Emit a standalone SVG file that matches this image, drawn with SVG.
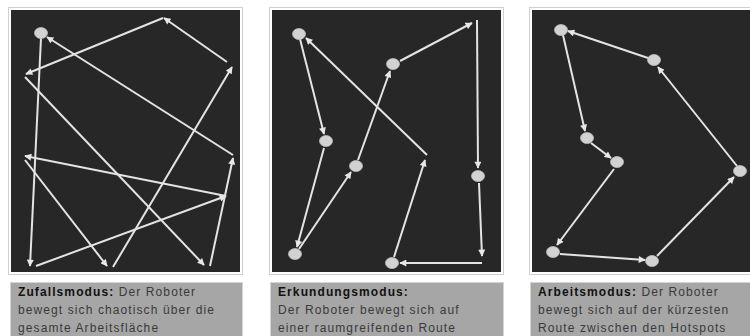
<svg xmlns="http://www.w3.org/2000/svg" width="750" height="336" viewBox="0 0 750 336">
<defs>
<style>
.frame{fill:#fff;stroke:#cfcfcf;stroke-width:1}
.dark{fill:#272727}
.cap{fill:#a6a6a6;stroke:#d4d4d4;stroke-width:1}
.ln{stroke:#e4e4e4;stroke-width:2;fill:none;marker-end:url(#ah)}
.nd{fill:#d2d2d2;stroke:#bdbdbd;stroke-width:0.8}
.t{font-family:"Liberation Sans",Arial,sans-serif;font-size:12px;fill:#3a3a3a;letter-spacing:1.1px}
.b{font-weight:bold;fill:#111}
</style>
<marker id="ah" viewBox="0 0 10 10" refX="9" refY="5" markerWidth="8" markerHeight="7" markerUnits="userSpaceOnUse" orient="auto">
<path d="M0,0 L10,5 L0,10 z" fill="#e8e8e8"/>
</marker>
</defs>
<rect width="750" height="336" fill="#fff"/>

<g id="panel1">
<rect class="frame" x="8.5" y="7.5" width="234" height="267"/>
<rect class="dark" x="11" y="10" width="229" height="262"/>
</g>
<g id="panel2">
<rect class="frame" x="269.5" y="7.5" width="234" height="267"/>
<rect class="dark" x="272" y="10" width="229" height="262"/>
</g>
<g id="panel3">
<rect class="frame" x="529.5" y="7.5" width="230" height="267"/>
<rect class="dark" x="532" y="10" width="230" height="262"/>
</g>

<g id="connectors">
<line class="ln" x1="41" y1="38" x2="30" y2="266"/>
<line class="ln" x1="36" y1="266" x2="226" y2="196"/>
<line class="ln" x1="226" y1="196" x2="25" y2="156"/>
<line class="ln" x1="25" y1="160" x2="107" y2="266"/>
<line class="ln" x1="113" y1="267" x2="232" y2="67"/>
<line class="ln" x1="227" y1="62" x2="164" y2="18"/>
<line class="ln" x1="163" y1="18" x2="26" y2="74"/>
<line class="ln" x1="25" y1="77" x2="204" y2="265"/>
<line class="ln" x1="210" y1="266" x2="233" y2="158"/>
<line class="ln" x1="233" y1="155" x2="47" y2="37"/>

<line class="ln" x1="300" y1="39" x2="324" y2="134"/>
<line class="ln" x1="324" y1="148" x2="297" y2="247"/>
<line class="ln" x1="299" y1="249" x2="351" y2="172"/>
<line class="ln" x1="358" y1="160" x2="390" y2="71"/>
<line class="ln" x1="400" y1="61" x2="472" y2="23"/>
<line class="ln" x1="477" y1="20" x2="478" y2="168"/>
<line class="ln" x1="479" y1="183" x2="482" y2="256"/>
<line class="ln" x1="482" y1="263" x2="400" y2="263"/>
<line class="ln" x1="394" y1="257" x2="425" y2="160"/>
<line class="ln" x1="427" y1="155" x2="306" y2="38"/>

<line class="ln" x1="563" y1="35" x2="585" y2="131"/>
<line class="ln" x1="591" y1="143" x2="611" y2="158"/>
<line class="ln" x1="614" y1="169" x2="557" y2="245"/>
<line class="ln" x1="560" y1="254" x2="645" y2="260"/>
<line class="ln" x1="657" y1="256" x2="734" y2="177"/>
<line class="ln" x1="737" y1="166" x2="658" y2="67"/>
<line class="ln" x1="648" y1="58" x2="568" y2="31"/>
</g>

<g id="nodes1">
<ellipse class="nd" cx="41" cy="33" rx="6.5" ry="5.5"/>
</g>
<g id="nodes2">
<ellipse class="nd" cx="299" cy="34" rx="6.5" ry="5.5"/>
<ellipse class="nd" cx="326" cy="141" rx="6.5" ry="5.5"/>
<ellipse class="nd" cx="295" cy="254" rx="6.5" ry="5.5"/>
<ellipse class="nd" cx="356" cy="166" rx="6.5" ry="5.5"/>
<ellipse class="nd" cx="393" cy="64" rx="6.5" ry="5.5"/>
<ellipse class="nd" cx="478" cy="176" rx="6.5" ry="5.5"/>
<ellipse class="nd" cx="392" cy="263" rx="6.5" ry="5.5"/>
</g>
<g id="nodes3">
<ellipse class="nd" cx="561" cy="30" rx="6.5" ry="5.5"/>
<ellipse class="nd" cx="654" cy="60" rx="6.5" ry="5.5"/>
<ellipse class="nd" cx="740" cy="171" rx="6.5" ry="5.5"/>
<ellipse class="nd" cx="652" cy="261" rx="6.5" ry="5.5"/>
<ellipse class="nd" cx="553" cy="252" rx="6.5" ry="5.5"/>
<ellipse class="nd" cx="617" cy="162" rx="6.5" ry="5.5"/>
<ellipse class="nd" cx="587" cy="138" rx="6.5" ry="5.5"/>
</g>

<g id="caption1">
<rect class="cap" x="10.5" y="282.5" width="232" height="60"/>
<text class="t" x="18" y="296"><tspan class="b">Zufallsmodus:</tspan> Der Roboter</text>
<text class="t" x="18" y="314">bewegt sich chaotisch über die</text>
<text class="t" x="18" y="332">gesamte Arbeitsfläche</text>
</g>
<g id="caption2">
<rect class="cap" x="270.5" y="282.5" width="233" height="60"/>
<text class="t" x="278" y="296"><tspan class="b">Erkundungsmodus:</tspan></text>
<text class="t" x="278" y="314">Der Roboter bewegt sich auf</text>
<text class="t" x="278" y="332">einer raumgreifenden Route</text>
</g>
<g id="caption3">
<rect class="cap" x="530.5" y="282.5" width="230" height="60"/>
<text class="t" x="538" y="296"><tspan class="b">Arbeitsmodus:</tspan> Der Roboter</text>
<text class="t" x="538" y="314">bewegt sich auf der kürzesten</text>
<text class="t" x="538" y="332">Route zwischen den Hotspots</text>
</g>
</svg>
